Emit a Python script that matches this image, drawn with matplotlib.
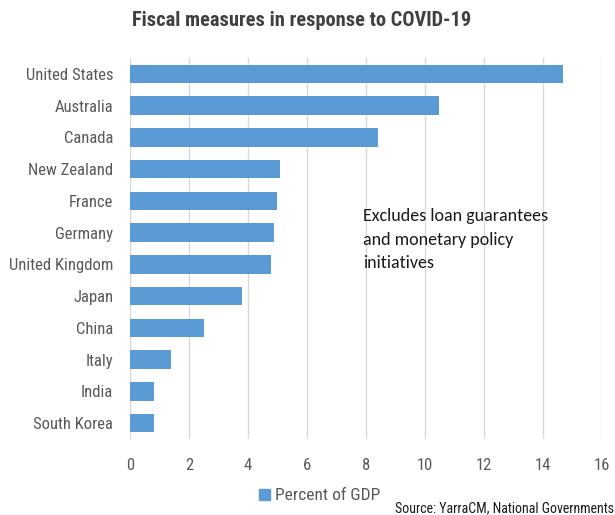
import matplotlib.pyplot as plt
from matplotlib.patches import Patch, Rectangle

countries = ['United States', 'Australia', 'Canada', 'New Zealand', 'France',
             'Germany', 'United Kingdom', 'Japan', 'China', 'Italy', 'India',
             'South Korea']
pct_gdp = [14.7, 10.5, 8.4, 5.1, 5.0, 4.9, 4.8, 3.8, 2.5, 1.4, 0.8, 0.8]
xticks = [0, 2, 4, 6, 8, 10, 12, 14, 16]

cond = 'Roboto Condensed'
grey = '#595959'
blue = '#5B9BD5'

fig = plt.figure(figsize=(6.15, 5.15), dpi=100)
ax = fig.add_axes([0.2114, 0.1476, 0.7666, 0.7398])

ypos = list(range(len(countries)))
ax.barh(ypos, pct_gdp, height=0.58, color=blue, zorder=3)
ax.set_ylim(len(countries) - 0.5, -0.5)
ax.set_xlim(0, 16)
ax.set_xticks(xticks)
ax.set_yticks(ypos)
ax.set_yticklabels(countries)

for s in ax.spines.values():
    s.set_visible(False)
ax.grid(axis='x', color='#d9d9d9', linewidth=1, zorder=0)
ax.tick_params(length=0, labelcolor=grey, labelsize=12)
ax.tick_params(axis='x', pad=14)
ax.tick_params(axis='y', pad=12)
for lbl in ax.get_xticklabels() + ax.get_yticklabels():
    lbl.set_family(cond)

fig.text(0.491, 0.961, 'Fiscal measures in response to COVID-19', ha='center',
         va='center', fontsize=14.7, fontweight='bold', color='#404040',
         family=cond)

# text box sitting over the gridlines
ax.add_patch(Rectangle((6.2, 3.88), 9.6, 2.81, facecolor='white',
                       edgecolor='none', zorder=1))
ax.text(7.9, 4.22, 'Excludes loan guarantees\nand monetary policy\ninitiatives',
        ha='left', va='top', fontsize=13, color='#1a1a1a', family='Carlito',
        linespacing=1.6, zorder=4)

fig.legend(handles=[Patch(color=blue, label='Percent of GDP')],
           loc='center', bbox_to_anchor=(0.52, 0.037), frameon=False,
           handlelength=0.6, handleheight=0.6, handletextpad=0.3,
           prop={'family': cond, 'size': 12.5}, labelcolor=grey)

fig.text(0.643, 0.0, 'Source: YarraCM, National Governments', ha='left',
         va='bottom', fontsize=10, color='#1a1a1a', family=cond)

fig.savefig('out.png', dpi=100)
